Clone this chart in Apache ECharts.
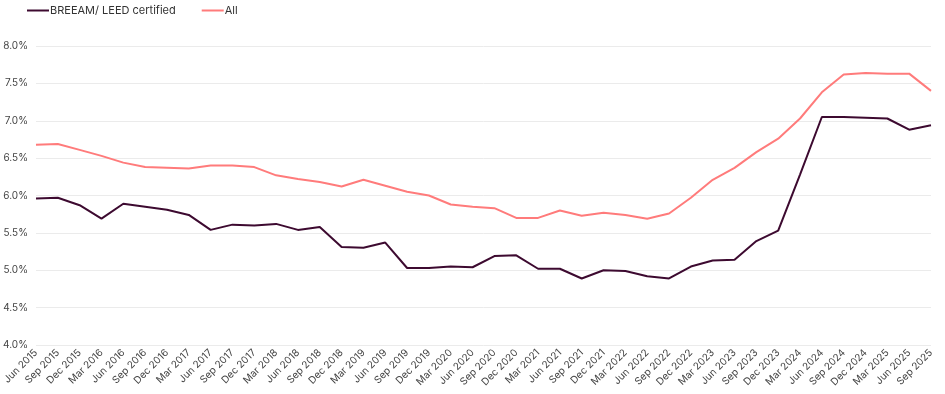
<!DOCTYPE html>
<html><head><meta charset="utf-8">
<script src="https://cdn.jsdelivr.net/npm/echarts@6/dist/echarts.min.js"></script>
<style>html,body{margin:0;padding:0;background:#fff}#c{width:945px;height:394px}</style>
</head><body><div id="c"></div>
<script>
const categories = ["Jun 2015","Sep 2015","Dec 2015","Mar 2016","Jun 2016","Sep 2016","Dec 2016","Mar 2017","Jun 2017","Sep 2017","Dec 2017","Mar 2018","Jun 2018","Sep 2018","Dec 2018","Mar 2019","Jun 2019","Sep 2019","Dec 2019","Mar 2020","Jun 2020","Sep 2020","Dec 2020","Mar 2021","Jun 2021","Sep 2021","Dec 2021","Mar 2022","Jun 2022","Sep 2022","Dec 2022","Mar 2023","Jun 2023","Sep 2023","Dec 2023","Mar 2024","Jun 2024","Sep 2024","Dec 2024","Mar 2025","Jun 2025","Sep 2025"];
const breeam = [5.96,5.97,5.87,5.69,5.89,5.85,5.81,5.74,5.54,5.61,5.60,5.62,5.54,5.58,5.31,5.30,5.37,5.03,5.03,5.05,5.04,5.19,5.20,5.02,5.02,4.89,5.00,4.99,4.92,4.89,5.05,5.13,5.14,5.39,5.53,6.28,7.05,7.05,7.04,7.03,6.88,6.94];
const all = [6.68,6.69,6.61,6.53,6.44,6.38,6.37,6.36,6.40,6.40,6.38,6.27,6.22,6.18,6.12,6.21,6.13,6.05,6.00,5.88,5.85,5.83,5.70,5.70,5.80,5.73,5.77,5.74,5.69,5.76,5.97,6.21,6.37,6.58,6.76,7.03,7.38,7.62,7.64,7.63,7.63,7.40];
const chart = echarts.init(document.getElementById('c'));
const font = 'Inter, "Noto Sans", sans-serif';
chart.setOption({
  animation:false,
  legend:{left:22,top:0,itemWidth:22,itemHeight:2,itemGap:26,icon:'rect',
    textStyle:{fontFamily:font,fontSize:11,color:'#333',padding:[0,0,0,-4]},
    data:['BREEAM/ LEED certified','All']},
  grid:{left:34,right:14,top:46,bottom:49,containLabel:false},
  xAxis:{type:'category',data:categories,boundaryGap:false,
    axisLine:{show:false},axisTick:{show:false},
    axisLabel:{rotate:45,interval:0,fontFamily:font,fontSize:10,color:'#444',margin:6}},
  yAxis:{type:'value',min:4,max:8,interval:0.5,
    axisLine:{show:false},axisTick:{show:false},
    splitLine:{lineStyle:{color:'#ebebeb',width:1}},
    axisLabel:{fontFamily:font,fontSize:10,color:'#444',margin:8,formatter:v=>v.toFixed(1)+'%'}},
  series:[
    {name:'BREEAM/ LEED certified',type:'line',data:breeam,showSymbol:false,lineStyle:{color:'#3d0a30',width:2},itemStyle:{color:'#3d0a30'}},
    {name:'All',type:'line',data:all,showSymbol:false,lineStyle:{color:'#ff7b7b',width:2},itemStyle:{color:'#ff7b7b'}}
  ]
});
</script></body></html>
